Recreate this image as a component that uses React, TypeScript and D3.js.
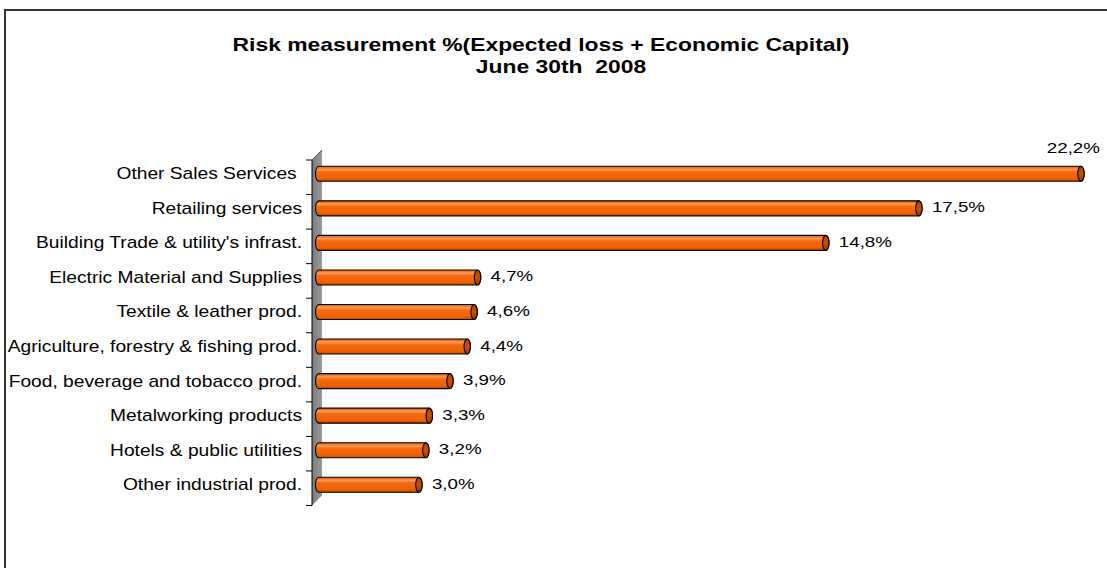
import React from "react";
import * as d3 from "d3";

const categories = [
  "Other Sales Services ",
  "Retailing services",
  "Building Trade & utility's infrast.",
  "Electric Material and Supplies",
  "Textile & leather prod.",
  "Agriculture, forestry & fishing prod.",
  "Food, beverage and tobacco prod.",
  "Metalworking products",
  "Hotels & public utilities",
  "Other industrial prod.",
];
const values = [22.2, 17.5, 14.8, 4.7, 4.6, 4.4, 3.9, 3.3, 3.2, 3.0];
const titleLines = ["Risk measurement %(Expected loss + Economic Capital)", "June 30th  2008"];

const W = 1107;
const H = 568;
const FONT = "'Liberation Sans', Arial, sans-serif";

export default function App() {
  const x = d3.scaleLinear().domain([0, 25]).range([315.5, 315.5 + 25 * 34.48]);
  const y = d3.scaleBand<string>().domain(categories).range([156.5, 502]).paddingInner(0);
  const depth = 3.5;
  const wallDepth = 10;
  const frontX = x(0) - depth;
  const frontTop = (y.range()[0] as number) + depth;
  const frontBottom = (y.range()[1] as number) + depth;
  const barH = 15;
  const capRx = 3.2;
  const fmt = (v: number) => v.toFixed(1).replace(".", ",") + "%";

  const stretchText = (
    tx: number,
    ty: number,
    content: string,
    anchor: string,
    size: number,
    sx: number,
    weight: string | number = "normal",
    key?: string
  ) => (
    <text
      key={key}
      transform={`translate(${tx},${ty}) scale(${sx},1)`}
      textAnchor={anchor}
      fontSize={size}
      fontWeight={weight}
      fontFamily={FONT}
      fill="#000"
      style={{ whiteSpace: "pre" }}
    >
      {content}
    </text>
  );

  const boundaries = d3.range(categories.length + 1).map((i) => frontTop + i * y.step());

  return (
    <svg width={W} height={H} style={{ position: "absolute", left: 0, top: 0, background: "#fff" }}>
      <defs>
        <linearGradient id="barGrad" x1="0" y1="0" x2="0" y2="1">
          <stop offset="0" stopColor="#e25a00" />
          <stop offset="0.22" stopColor="#ff9a5a" />
          <stop offset="0.38" stopColor="#f56a12" />
          <stop offset="0.8" stopColor="#ee6200" />
          <stop offset="1" stopColor="#c44c00" />
        </linearGradient>
        <linearGradient id="capGrad" x1="0" y1="0" x2="0" y2="1">
          <stop offset="0" stopColor="#b04000" />
          <stop offset="0.5" stopColor="#c85200" />
          <stop offset="1" stopColor="#9a3800" />
        </linearGradient>
        <linearGradient id="wallGrad" x1="0" y1="0" x2="1" y2="0">
          <stop offset="0" stopColor="#7a7a7a" />
          <stop offset="1" stopColor="#9a9a9a" />
        </linearGradient>
      </defs>
      <rect x={5} y={10} width={W + 50} height={H + 50} fill="#fff" stroke="#333" strokeWidth={2} />

      {stretchText(541, 51, titleLines[0], "middle", 18.3, 1.25, "bold")}
      {stretchText(561, 73, titleLines[1], "middle", 18.3, 1.25, "bold")}

      <path
        d={`M${frontX},${frontTop} L${frontX + wallDepth},${frontTop - wallDepth} L${frontX + wallDepth},${frontBottom - wallDepth} L${frontX},${frontBottom} Z`}
        fill="url(#wallGrad)"
        stroke="none"
      />
      <line x1={frontX} y1={frontTop} x2={frontX + wallDepth} y2={frontTop - wallDepth} stroke="#555" strokeWidth={1} />
      <line x1={frontX} y1={frontTop} x2={frontX} y2={frontBottom} stroke="#000" strokeWidth={1} />
      {boundaries.map((b, i) => (
        <line key={"t" + i} x1={frontX - 6} y1={b} x2={frontX} y2={b} stroke="#000" strokeWidth={1} />
      ))}

      {categories.map((c, i) => {
        const cy = (y(c) as number) + y.bandwidth() / 2;
        const top = cy - barH / 2;
        const bot = cy + barH / 2;
        const x0 = x(0);
        const x1 = x(values[i]);
        const body = `M${x0 + capRx},${top} L${x1},${top} A${capRx},${barH / 2} 0 0 1 ${x1},${bot} L${x0 + capRx},${bot} A${capRx},${barH / 2} 0 0 1 ${x0 + capRx},${top} Z`;
        return (
          <g key={c}>
            <path d={body} fill="url(#barGrad)" stroke="#000" strokeWidth={1.1} />
            <ellipse cx={x1} cy={cy} rx={capRx} ry={barH / 2} fill="url(#capGrad)" stroke="#000" strokeWidth={1.1} />
          </g>
        );
      })}

      {categories.map((c) => {
        const cy = (y(c) as number) + y.bandwidth() / 2;
        return stretchText(302, cy + 5.5, c, "end", 16, 1.2, "normal", "l" + c);
      })}

      {categories.map((c, i) => {
        const cy = (y(c) as number) + y.bandwidth() / 2;
        const xe = x(values[i]);
        const estW = fmt(values[i]).length * 10;
        const fits = xe + 13 + estW < W - 5;
        return fits
          ? stretchText(xe + 13, cy + 4, fmt(values[i]), "start", 15, 1.25, "normal", "v" + c)
          : stretchText(xe + 19, cy - 21, fmt(values[i]), "end", 15, 1.25, "normal", "v" + c);
      })}
    </svg>
  );
}
